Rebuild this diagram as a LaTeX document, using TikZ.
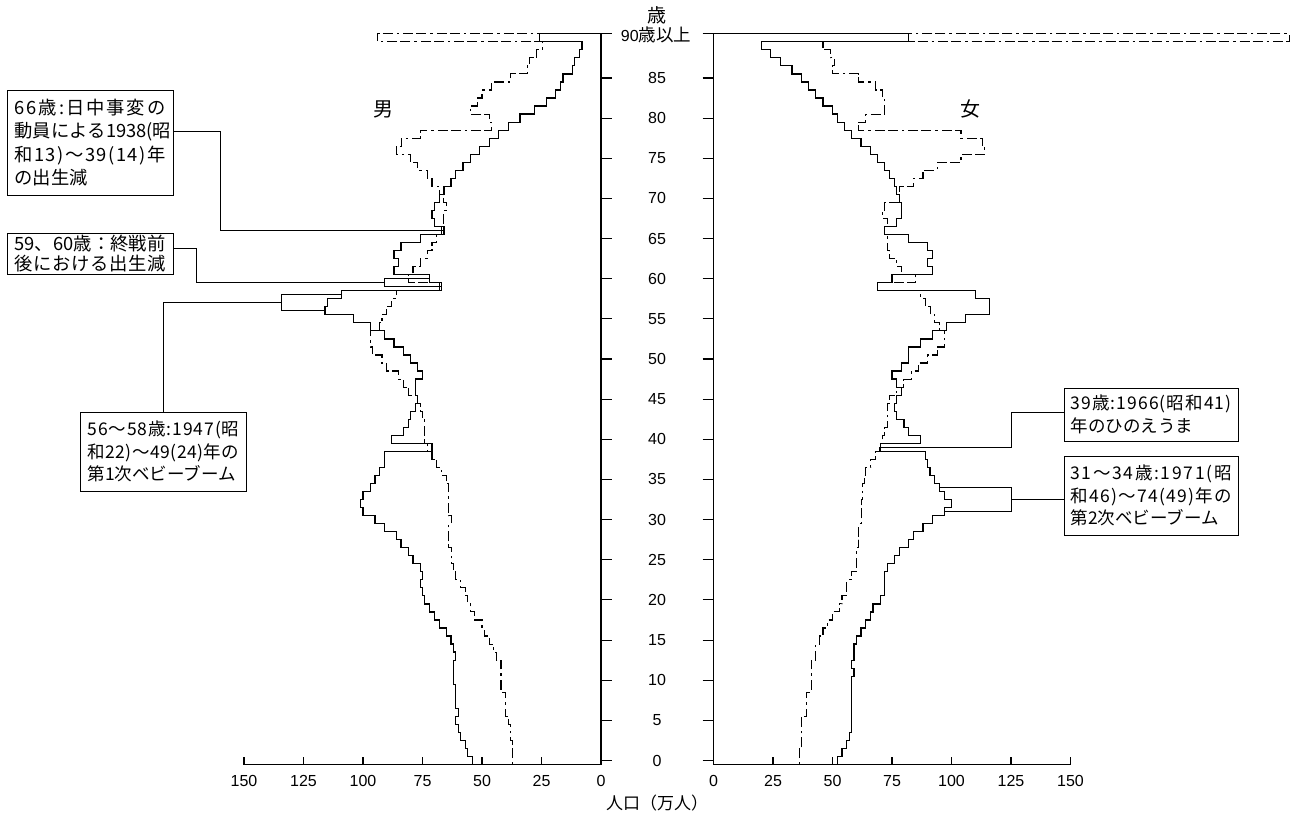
\documentclass[tikz,border=0pt]{standalone}
\usepackage{fontspec}
\setmainfont{Liberation Sans}
\newfontfamily\jp{Noto Sans CJK JP}
\def\spreadtext#1{\spfirst#1\relax}
\def\spfirst#1{#1\sploop}
\def\sploop#1{\ifx#1\relax\else\hfil#1\expandafter\sploop\fi}
\newcommand\jline[2]{\makebox[#1][s]{\spreadtext{#2}}}
\def\MS{54,56,57,59,60,61,60,61,61,61,62,62,62,61,62,63,65,68,70,72,74,75,76,75,76,79,81,84,86,91,95,100,101,100,97,95,93,91,91,71,88,83,81,80,78,77,78,78,75,77,80,83,87,91,97,104,116,115,109,67,72,87,85,87,84,76,66,70,71,70,68,66,63,61,58,55,51,47,43,39,34,28,23,19,17,16,12,11,9,8}
\def\MD{37,37,37,38,38,39,40,40,40,42,42,42,42,44,45,47,49,50,53,55,56,57,59,61,62,63,63,64,64,64,63,64,64,64,64,65,67,69,71,73,74,74,74,75,76,77,81,83,85,90,92,96,97,97,93,92,90,88,86,68,81,79,76,73,71,69,67,66,66,65,66,68,71,73,77,80,86,84,76,46,47,55,52,50,46,38,31,30,27,24.5}
\def\FS{52,54,56,57,58,58,58,58,58,58,58,59,58,59,59,60,62,64,66,67,70,72,72,72,73,76,78,82,84,88,92,97,100,97,95,93,91,90,89,70,87,82,80,77,76,77,79,77,75,79,82,82,87,92,98,106,116,116,110,69,75,92,90,92,90,82,72,77,79,79,78,77,76,74,72,69,66,62,58,55,52,50,46,43,40,37,33,28,24,20}
\def\FD{36,36,37,37,37,37,39,39,39,41,41,41,41,43,43,44.5,46,48,50,53,54,56,56,58,60,60,60,61,61,61,62,62,62,62.7,62.7,63.4,64,66,68,69.7,71,72,73,73,73,74,77,80,83,86,90,94,97,97,95,93,91,89,87,69,85,79,77,74,73,73,72,73,71,72,78,78,84,88,94,104,114,113,104,61,64,72,72,71,68,61,50,51,49,46}
\tikzset{
  curve/.style={line width=1.2pt, line join=miter},
  dcurve/.style={line width=1.1pt, dash pattern=on 2.5pt off 4pt on 10pt off 3pt on 10pt off 4pt},
  axisline/.style={line width=1.1pt},
  conn/.style={line width=0.9pt},
  box/.style={draw, line width=0.9pt, inner xsep=7pt, inner ysep=0pt, align=left, anchor=center},
  num/.style={font=\fontsize{16}{18}\selectfont, inner sep=0pt},
  bfont/.style={font=\jp\fontsize{17.5}{22.5}\selectfont},
}
\begin{document}
\begin{tikzpicture}[x=1pt,y=-1pt]
\useasboundingbox (0,0) rectangle (1295,815);
% left (male) data
\begin{scope}[shift={(601,764.5)}, xscale=-2.38, yscale=-8.03]
  \draw[curve] (54,0) \foreach \v [count=\i from 0] in \MS { -- (\v,\i) -- (\v,\i+1) } -- (26,90) -- (26,91) -- (0,91);
  \draw[dcurve] (37,0) \foreach \v [count=\i from 0] in \MD { -- (\v,\i) -- (\v,\i+1) } -- (94,90) -- (94,91) -- (0,91);
  \coordinate (p66) at (66,66.5);
  \coordinate (p60) at (72,60.5);
  \coordinate (p59) at (67,59.5);
  \coordinate (p58) at (109,58.5);
  \coordinate (p56) at (116,56.5);
\end{scope}
% right (female) data
\begin{scope}[shift={(713.5,764.5)}, xscale=2.38, yscale=-8.03]
  \draw[curve] (52,0) \foreach \v [count=\i from 0] in \FS { -- (\v,\i) -- (\v,\i+1) } -- (82,90) -- (82,91) -- (0,91);
  \draw[dcurve] (36,0) \foreach \v [count=\i from 0] in \FD { -- (\v,\i) -- (\v,\i+1) } -- (242,90) -- (242,91) -- (0,91);
  \coordinate (f39) at (70,39.5);
  \coordinate (f34) at (95,34.5);
  \coordinate (f31) at (97,31.5);
\end{scope}
% axes
\draw[axisline, line width=1.6pt] (601,33.3) -- (601,764.5);
\draw[axisline] (601,764.5) -- (244,764.5);
\draw[axisline] (713.5,33.3) -- (713.5,764.5) -- (1071,764.5);
\foreach \a in {0,5,...,85} {
  \pgfmathsetmacro\yy{760.5-8.03*\a}
  \draw[axisline] (601,\yy) -- (612,\yy);
  \draw[axisline] (702.5,\yy) -- (713.5,\yy);
  \node[num] (ya\a) at (657,\yy) {\a};
}
\draw[axisline] (601,33.5) -- (612,33.5);
\draw[axisline] (702.5,33.5) -- (713.5,33.5);
\node[num] (ya90) at (656,34.5) {90{\jp\fontsize{17.5}{20}\selectfont 歳以上}};
\node[font=\jp\fontsize{19}{22}\selectfont, inner sep=0pt] (lage) at (657,15) {歳};
\foreach \k in {0,...,6} {
  \pgfmathsetmacro\xl{601-59.5*\k}
  \pgfmathsetmacro\xr{713.5+59.5*\k}
  \pgfmathtruncatemacro\lab{25*\k}
  \draw[axisline] (\xl,764.5) -- (\xl,757);
  \draw[axisline] (\xr,764.5) -- (\xr,757);
  \node[num] (xl\k) at (\xl,781) {\lab};
  \node[num] (xr\k) at (\xr,781) {\lab};
}
\node[font=\jp\fontsize{17}{20}\selectfont, inner sep=0pt] (xtitle) at (657,803) {人口（万人）};
\node[font=\jp\fontsize{20}{24}\selectfont, inner sep=0pt] (lm) at (383,109) {男};
\node[font=\jp\fontsize{20}{24}\selectfont, inner sep=0pt] (lf) at (970,109) {女};
% annotation boxes
\node[box, text width=151pt, minimum height=105pt, inner xsep=7.5pt, font=\jp\fontsize{18.3}{23.3}\selectfont] (b1) at (90,142.5)
  {\jline{151pt}{66歳:日中事変の}\\\jline{151pt}{動員による1938(昭}\\\jline{151pt}{和13)〜39(14)年}\\の出生減};
\node[box, text width=151pt, minimum height=41pt, inner xsep=7.5pt, font=\jp\fontsize{18.3}{19.5}\selectfont] (b2) at (90,253.5)
  {\jline{151pt}{59、60歳：終戦前}\\\jline{151pt}{後における出生減}};
\node[box, bfont, text width=152pt, minimum height=79pt] (b3) at (163.5,451.5)
  {\jline{152pt}{56〜58歳:1947(昭}\\\jline{152pt}{和22)〜49(24)年の}\\第1次ベビーブーム};
\node[box, bfont, text width=161pt, minimum height=53pt, inner xsep=6.5pt] (b4) at (1151,414.5)
  {\jline{161pt}{39歳:1966(昭和41)}\\年のひのえうま};
\node[box, bfont, text width=161pt, minimum height=79pt, inner xsep=6.5pt] (b5) at (1151,495.5)
  {\jline{161pt}{31〜34歳:1971(昭}\\\jline{161pt}{和46)〜74(49)年の}\\第2次ベビーブーム};
% connectors
\coordinate (c1) at (220.7,131.7);
\draw[conn] (b1.east |- c1) -- (c1) |- (p66);
\coordinate (c2) at (196.7,248.3);
\coordinate (k2) at (384.3,282.7);
\draw[conn] (b2.east |- c2) -- (c2) |- (k2);
\draw[conn] (p60) -- (k2 |- p60) -- (k2 |- p59) -- (p59);
\coordinate (k3) at (281,302.8);
\draw[conn] (b3.north) |- (k3);
\draw[conn] (p58) -- (k3 |- p58) -- (k3 |- p56) -- (p56);
\coordinate (c4) at (1011.7,412.7);
\draw[conn] (b4.west |- c4) -- (c4) |- (f39);
\coordinate (k5) at (1011.5,499.5);
\draw[conn] (b5.west |- k5) -- (k5);
\draw[conn] (f34) -- (k5 |- f34) -- (k5 |- f31) -- (f31);
\end{tikzpicture}
\end{document}
